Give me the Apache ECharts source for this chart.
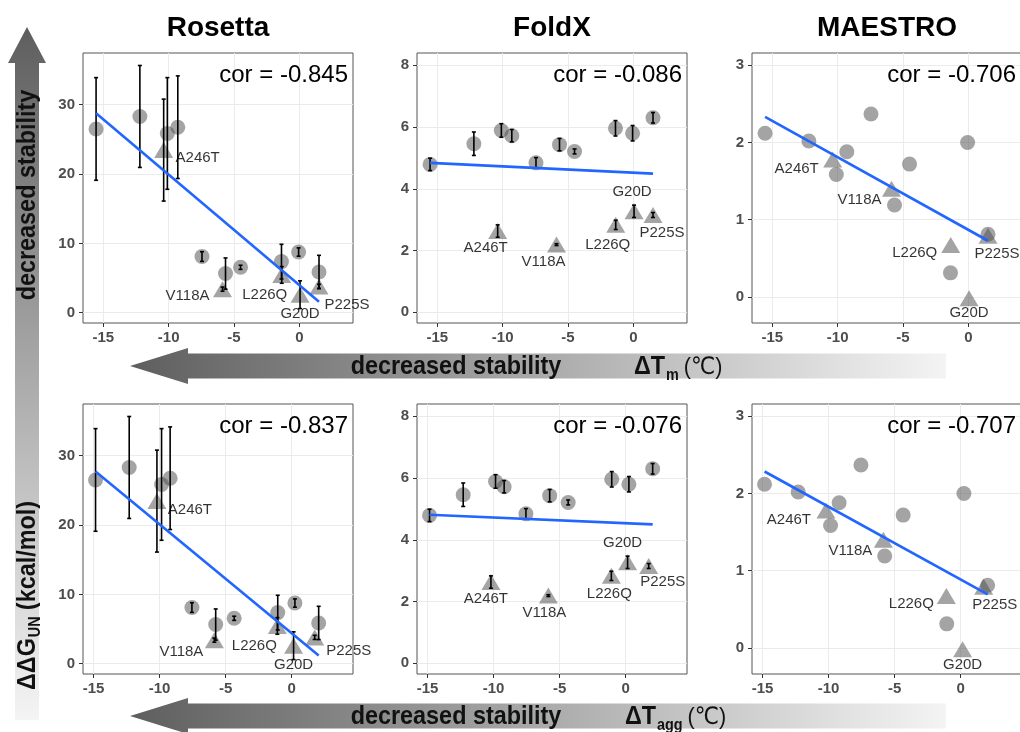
<!DOCTYPE html>
<html>
<head>
<meta charset="utf-8">
<script src="https://cdn.jsdelivr.net/npm/echarts@6/dist/echarts.min.js"></script>
<style>
html, body { margin: 0; padding: 0; background: #fff; }
#main { width: 1020px; height: 732px; }
</style>
</head>
<body>
<div id="main"></div>
<script>
// x values: ΔTm (top row) and ΔTagg (bottom row); 10 circles + 5 named triangles
var circleTm   = [-15.55, -12.2, -10.1, -9.3, -7.45, -5.65, -4.5, -1.37, -0.06, 1.5];
var circleTagg = [-14.85, -12.3, -9.85, -9.2, -7.55, -5.75, -4.35, -1.05, 0.25, 2.05];
var triNames   = ['A246T', 'V118A', 'L226Q', 'G20D', 'P225S'];
var triTm      = [-10.38, -5.88, -1.35, 0.05, 1.5];
var triTagg    = [-10.2, -5.85, -1.08, 0.15, 1.75];

// predicted ddG per method (same mutants in both rows)
var rosettaCircle   = [26.5, 28.3, 25.85, 26.75, 8.1, 5.65, 6.55, 7.37, 8.75, 5.88];
var rosettaCircleSd = [7.4, 7.35, 8.05, 7.4, 0.7, 2.25, 0.3, 2.5, 0.6, 2.4];
var rosettaTri      = [23.45, 3.4, 5.45, 2.6, 3.8];
var rosettaTriSd    = [7.35, 0.3, 1.2, 2.0, 0.3];

var foldxCircle   = [4.79, 5.46, 5.89, 5.72, 4.84, 5.43, 5.21, 5.96, 5.8, 6.3];
var foldxCircleSd = [0.2, 0.38, 0.22, 0.2, 0.17, 0.2, 0.08, 0.25, 0.25, 0.17];
var foldxTri      = [2.63, 2.19, 2.83, 3.27, 3.15];
var foldxTriSd    = [0.2, 0.03, 0.15, 0.2, 0.08];

var maestroCircle = [2.12, 2.02, 1.585, 1.88, 2.37, 1.19, 1.72, 0.31, 2.0, 0.81];
var maestroTri    = [1.78, 1.4, 0.67, -0.02, 0.79];

var methods  = ['Rosetta', 'FoldX', 'MAESTRO'];
var corTm    = ['-0.845', '-0.086', '-0.706'];
var corTagg  = ['-0.837', '-0.076', '-0.707'];

var xTicks       = [-15, -10, -5, 0];
var rosettaTicks = [0, 10, 20, 30];
var foldxTicks   = [0, 2, 4, 6, 8];
var maestroTicks = [0, 1, 2, 3];

// label nudges (px) for the triangle names, per panel
var labelNudge = [
  [[34, 8], [-35, 7], [-17, 20], [0, 19], [28, 18]],
  [[-12, 17], [-13, 17], [-8, 20], [-2, -19], [9, 18]],
  [[-36, 9], [-32, 11], [-36, 8], [0, 15], [9, 18]],
  [[33, 9], [-33, 12], [-23, 20], [0, 19], [34, 13]],
  [[-5, 17], [-4, 17], [-2, 18], [-5, -19], [14, 16]],
  [[-37, 9], [-33, 11], [-35, 8], [0, 16], [11, 18]]
];

var FONT = '"Liberation Sans", Arial, "DejaVu Sans", sans-serif';
var colLeft = [83, 417, 752];
var rowTop = [53, 404];
var plotW = 270, plotH = 270;

var rows = [
  { cx: circleTm, tx: triTm, range: [-16.55, 4.1], cor: corTm },
  { cx: circleTagg, tx: triTagg, range: [-15.8, 4.65], cor: corTagg }
];
var cols = [
  { cy: rosettaCircle, ty: rosettaTri, csd: rosettaCircleSd, tsd: rosettaTriSd, range: [-1.48, 37.45], ticks: rosettaTicks },
  { cy: foldxCircle, ty: foldxTri, csd: foldxCircleSd, tsd: foldxTriSd, range: [-0.35, 8.4], ticks: foldxTicks },
  { cy: maestroCircle, ty: maestroTri, csd: null, tsd: null, range: [-0.34, 3.16], ticks: maestroTicks }
];

function fitLine(xs, ys) {
  var n = xs.length, mx = 0, my = 0, sxx = 0, sxy = 0;
  for (var i = 0; i < n; i++) { mx += xs[i]; my += ys[i]; }
  mx /= n; my /= n;
  for (var i = 0; i < n; i++) {
    sxx += (xs[i] - mx) * (xs[i] - mx);
    sxy += (xs[i] - mx) * (ys[i] - my);
  }
  var b = sxy / sxx, a = my - b * mx;
  var lo = Math.min.apply(null, xs), hi = Math.max.apply(null, xs);
  return [[lo, a + b * lo], [hi, a + b * hi]];
}

function renderErrorBar(params, api) {
  var x = api.value(0);
  var top = api.coord([x, api.value(2)]);
  var bot = api.coord([x, api.value(1)]);
  var cap = 2;
  var st = { stroke: '#000', lineWidth: 1.6 };
  return {
    type: 'group',
    children: [
      { type: 'line', shape: { x1: top[0], y1: top[1], x2: bot[0], y2: bot[1] }, style: st },
      { type: 'line', shape: { x1: top[0] - cap, y1: top[1], x2: top[0] + cap, y2: top[1] }, style: st },
      { type: 'line', shape: { x1: bot[0] - cap, y1: bot[1], x2: bot[0] + cap, y2: bot[1] }, style: st }
    ]
  };
}

var grids = [], xAxes = [], yAxes = [], series = [], graphics = [];
var pointColor = 'rgba(80,80,80,0.65)';

for (var r = 0; r < 2; r++) {
  for (var c = 0; c < 3; c++) {
    var idx = r * 3 + c;
    var row = rows[r], col = cols[c];
    grids.push({
      left: colLeft[c], top: rowTop[r], width: plotW, height: plotH,
      show: true, borderColor: '#555', borderWidth: 1, backgroundColor: 'transparent',
      containLabel: false, outerBoundsMode: 'none'
    });
    var labelStyle = { color: '#4d4d4d', fontWeight: 'bold', fontSize: 15, fontFamily: FONT };
    xAxes.push({
      type: 'value', gridIndex: idx, min: row.range[0], max: row.range[1],
      axisLine: { show: false, onZero: false },
      axisTick: { show: true, length: 4, lineStyle: { color: '#333' }, customValues: xTicks },
      axisLabel: Object.assign({ margin: 7, customValues: xTicks }, labelStyle),
      splitLine: { show: true, lineStyle: { color: '#ebebeb', width: 1 } }
    });
    yAxes.push({
      type: 'value', gridIndex: idx, min: col.range[0], max: col.range[1],
      axisLine: { show: false, onZero: false },
      axisTick: { show: true, length: 4, lineStyle: { color: '#333' }, customValues: col.ticks },
      axisLabel: Object.assign({ margin: 8, customValues: col.ticks }, labelStyle),
      splitLine: { show: true, lineStyle: { color: '#ebebeb', width: 1 } }
    });

    var circles = row.cx.map(function (x, i) { return [x, col.cy[i]]; });
    var tris = row.tx.map(function (x, i) { return [x, col.ty[i]]; });

    series.push({
      type: 'scatter', xAxisIndex: idx, yAxisIndex: idx, z: 2,
      symbol: 'circle', symbolSize: 15, data: circles,
      itemStyle: { color: pointColor }, silent: true
    });
    series.push({
      type: 'scatter', xAxisIndex: idx, yAxisIndex: idx, z: 2,
      symbol: 'triangle', symbolSize: [19, 16], data: tris,
      itemStyle: { color: pointColor }, silent: true
    });

    if (col.csd) {
      var bars = [];
      row.cx.forEach(function (x, i) { bars.push([x, col.cy[i] - col.csd[i], col.cy[i] + col.csd[i]]); });
      row.tx.forEach(function (x, i) { bars.push([x, col.ty[i] - col.tsd[i], col.ty[i] + col.tsd[i]]); });
      series.push({
        type: 'custom', xAxisIndex: idx, yAxisIndex: idx, z: 3,
        renderItem: renderErrorBar, data: bars, silent: true,
        encode: { x: 0, y: [1, 2] }
      });
    }

    var allX = row.cx.concat(row.tx), allY = col.cy.concat(col.ty);
    series.push({
      type: 'line', xAxisIndex: idx, yAxisIndex: idx, z: 4,
      data: fitLine(allX, allY), showSymbol: false, silent: true,
      lineStyle: { color: '#2266ff', width: 2.6 }
    });

    series.push({
      type: 'scatter', xAxisIndex: idx, yAxisIndex: idx, z: 6,
      symbolSize: 0.1, itemStyle: { color: 'transparent' }, silent: true,
      data: tris.map(function (p, i) {
        return { name: triNames[i], value: p, label: { offset: labelNudge[idx][i] } };
      }),
      label: { show: true, position: 'inside', formatter: '{b}', color: '#000', fontSize: 15, fontFamily: FONT }
    });

    graphics.push({
      type: 'text', x: colLeft[c] + plotW - (c === 2 ? 6 : 5), y: rowTop[r] + 22,
      style: { text: 'cor = ' + row.cor[c], fill: '#000', font: '24px ' + FONT, textAlign: 'right', textVerticalAlign: 'middle' },
      z: 10
    });
  }
}

// column titles
methods.forEach(function (m, c) {
  graphics.push({
    type: 'text', x: colLeft[c] + plotW / 2, y: 28,
    style: { text: m, fill: '#000', font: 'bold 28px ' + FONT, textAlign: 'center', textVerticalAlign: 'middle' }
  });
});

// gradient arrows
function grad(x2, y2) {
  return { type: 'linear', x: 0, y: 0, x2: x2, y2: y2, colorStops: [{ offset: 0, color: '#5e5e5e' }, { offset: 1, color: '#f4f4f4' }] };
}
graphics.push({
  type: 'polygon', z: 0,
  shape: { points: [[27, 27], [46, 63], [39, 63], [39, 720], [15, 720], [15, 63], [8, 63]] },
  style: { fill: grad(0, 1) }
});
function hArrow(cy) {
  return {
    type: 'polygon', z: 0,
    shape: { points: [[130, cy], [188, cy - 18], [188, cy - 12.5], [946, cy - 12.5], [946, cy + 12.5], [188, cy + 12.5], [188, cy + 18]] },
    style: { fill: grad(1, 0) }
  };
}
graphics.push(hArrow(366));
graphics.push(hArrow(716));

// condensed bold titles: regular bold font squeezed horizontally
var measureCtx = document.createElement('canvas').getContext('2d');
function textWidth(t, f) { measureCtx.font = f; return measureCtx.measureText(t).width; }
var SQ = 0.9;
var bigBold = 'bold 26px ' + FONT;
var subBold = 'bold 16px ' + FONT;

function xAxisTitle(cy, sub, subLeft) {
  var wSub = textWidth(sub, subBold);
  return [
    { type: 'text', x: 456, y: cy, z: 5, scaleX: SQ,
      style: { text: 'decreased stability', fill: '#111', font: bigBold, textAlign: 'center', textVerticalAlign: 'middle' } },
    { type: 'text', x: subLeft, y: cy, z: 5, scaleX: SQ,
      style: { text: '\u0394T', fill: '#111', font: bigBold, textAlign: 'right', textVerticalAlign: 'middle' } },
    { type: 'text', x: subLeft + 1, y: cy + 9, z: 5, scaleX: SQ,
      style: { text: sub, fill: '#111', font: subBold, textAlign: 'left', textVerticalAlign: 'middle' } },
    { type: 'text', x: subLeft + 1 + wSub * SQ + 5, y: cy, z: 5, scaleX: SQ,
      style: { text: '(\u2103)', fill: '#111', font: '24px ' + FONT, textAlign: 'left', textVerticalAlign: 'middle' } }
  ];
}
graphics = graphics.concat(xAxisTitle(367, 'm', 665));
graphics = graphics.concat(xAxisTitle(717, 'agg', 656));

graphics.push({
  type: 'text', x: 28, y: 195, rotation: Math.PI / 2, scaleX: SQ, z: 5,
  style: { text: 'decreased stability', fill: '#111', font: bigBold, textAlign: 'center', textVerticalAlign: 'middle' }
});
var wG = textWidth('\u0394\u0394G', bigBold);
var wUN = textWidth('UN', subBold);
graphics.push({
  type: 'group', x: 28, y: 690, rotation: Math.PI / 2, scaleX: SQ, z: 5,
  children: [
    { type: 'text', x: 0, y: 0, style: { text: '\u0394\u0394G', fill: '#111', font: bigBold, textAlign: 'left', textVerticalAlign: 'middle' } },
    { type: 'text', x: wG + 1, y: 8, style: { text: 'UN', fill: '#111', font: subBold, textAlign: 'left', textVerticalAlign: 'middle' } },
    { type: 'text', x: wG + wUN + 8, y: 0, style: { text: '(kcal/mol)', fill: '#111', font: bigBold, textAlign: 'left', textVerticalAlign: 'middle' } }
  ]
});

var chart = echarts.init(document.getElementById('main'), null, { renderer: 'canvas' });
chart.setOption({
  animation: false,
  backgroundColor: '#fff',
  grid: grids,
  xAxis: xAxes,
  yAxis: yAxes,
  series: series,
  graphic: graphics
});
</script>
</body>
</html>
